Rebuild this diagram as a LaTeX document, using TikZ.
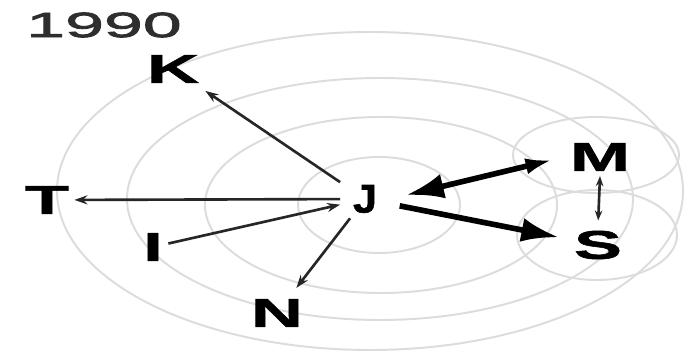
\documentclass[tikz,border=0pt]{standalone}
\usepackage{fontspec}
\usepackage{tikz}
\usetikzlibrary{arrows.meta}
\newfontfamily\letterfont[FakeStretch=1.8, FakeBold=1.5]{Liberation Sans}
\newfontfamily\yearfont[FakeStretch=2.0, FakeBold=2.5]{Liberation Sans}
\definecolor{ringgray}{HTML}{DCDCE0}
\definecolor{yeartext}{HTML}{2E2E2E}
\definecolor{arrowdark}{HTML}{262626}

\begin{document}
\begin{tikzpicture}[
  x=0.02cm, y=-0.02cm,
  ring/.style={draw=ringgray, line width=1.1pt},
  country/.style={font=\letterfont\bfseries\fontsize{22.8}{24}\selectfont, inner sep=0.1cm},
  thinarrow/.style={-{Stealth[length=0.26cm, width=0.18cm]}, line width=1.5pt, color=arrowdark},
  thickarrow/.style={line width=3.2pt, color=black},
]

% Canvas
\useasboundingbox[fill=white] (0,0) rectangle (687,358);

% Rings round J
\draw[ring] (370,191) ellipse [x radius=313, y radius=159];
\draw[ring] (380,199) ellipse [x radius=253, y radius=121];
\draw[ring] (381,205) ellipse [x radius=176, y radius=88];
\draw[ring] (379,205) ellipse [x radius=81, y radius=48];

% Rings round M and S
\draw[ring] (596,155) ellipse [x radius=83, y radius=38];
\draw[ring] (597,235) ellipse [x radius=80, y radius=45];

% Year
\node[font=\yearfont\fontsize{19.9}{22}\selectfont, text=yeartext, inner sep=0] (year) at (104,25) {1990};

% Countries
\node[country] (K) at (173,69) {K};
\node[country] (T) at (47,200) {T};
\node[country] (I) at (153,247) {I};
\node[country] (N) at (277,313) {N};
\node[country, inner xsep=0.25cm] (J) at (365,199) {\scalebox{0.6}[1]{J}};
\node[country] (M) at (600,157) {M};
\node[country] (S) at (598,245) {S};

% Arrows
\draw[thinarrow, shorten >=0.1cm] (J) -- (K);
\draw[thinarrow] (J) -- (T);
\draw[thinarrow] (I) -- (J);
\draw[thinarrow, shorten >=0.15cm] (J) -- (N);
\draw[thickarrow, {Latex[length=0.75cm, width=0.5cm]}-{Latex[length=0.55cm, width=0.32cm]},
      shorten <=0.34cm, shorten >=0.24cm] (J.east) -- (M.west);
\draw[thickarrow, -{Latex[length=0.75cm, width=0.48cm]}, shorten <=0.2cm, shorten >=0.2cm] (J) -- (S);
\draw[thinarrow, {Stealth[length=0.2cm, width=0.15cm]}-{Stealth[length=0.2cm, width=0.15cm]},
      shorten >=0.1cm] (M.south) -- (S.north);

\end{tikzpicture}
\end{document}
